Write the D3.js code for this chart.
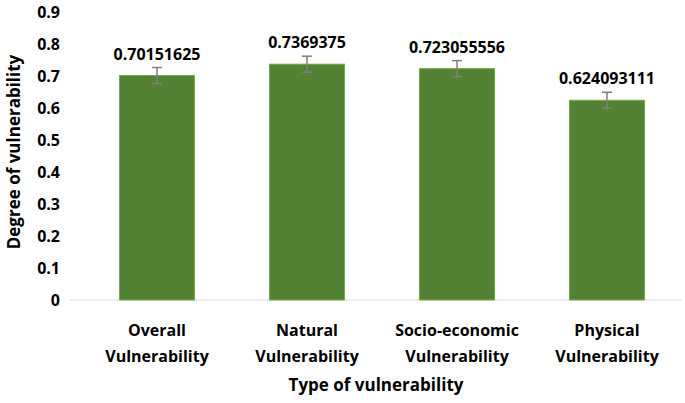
<!DOCTYPE html>
<html><head><meta charset="utf-8">
<script src="https://cdn.jsdelivr.net/npm/d3@7"></script>
<style>body{margin:0;background:#fff}text{font-family:"Open Sans",sans-serif;font-weight:bold;fill:#000}</style>
</head><body>
<script>
// chart data
var categories = [["Overall", "Vulnerability"], ["Natural", "Vulnerability"], ["Socio-economic", "Vulnerability"], ["Physical", "Vulnerability"]];
var values = [0.70151625, 0.7369375, 0.723055556, 0.624093111];
var errors = [0.025, 0.025, 0.025, 0.025];
var yTicks = [0, 0.1, 0.2, 0.3, 0.4, 0.5, 0.6, 0.7, 0.8, 0.9];

var svg = d3.select("body").append("svg").attr("width", 685).attr("height", 403);

var x = d3.scaleBand().domain(d3.range(values.length)).range([82, 682]).paddingInner(0.5).paddingOuter(0.25);
var y = d3.scaleLinear().domain([0, 0.9]).range([300, 12]);

// y axis labels
svg.selectAll(".yt").data(yTicks).enter().append("text")
	.attr("x", 60).attr("y", function(d){ return y(d) + 6; })
	.attr("text-anchor", "end").style("font-size", "16px")
	.text(function(d){ return d === 0 ? "0" : d.toFixed(1); });

// baseline
svg.append("line").attr("x1", 70).attr("x2", 682).attr("y1", y(0)).attr("y2", y(0))
	.attr("stroke", "#d9d9d9").attr("stroke-width", 1);

// bars
svg.selectAll(".bar").data(values).enter().append("rect")
	.attr("x", function(d, i){ return x(i); })
	.attr("y", function(d){ return y(d); })
	.attr("width", x.bandwidth())
	.attr("height", function(d){ return y(0) - y(d); })
	.attr("fill", "#548235").attr("stroke", "#70ad47").attr("stroke-width", 1);

// error bars
values.forEach(function(d, i){
	var cx = x(i) + x.bandwidth() / 2;
	var g = svg.append("g").attr("stroke", "#7f7f7f").attr("stroke-width", 1.5);
	g.append("line").attr("x1", cx).attr("x2", cx).attr("y1", y(d + errors[i])).attr("y2", y(d - errors[i]));
	g.append("line").attr("x1", cx - 5).attr("x2", cx + 5).attr("y1", y(d + errors[i])).attr("y2", y(d + errors[i]));
	g.append("line").attr("x1", cx - 5).attr("x2", cx + 5).attr("y1", y(d - errors[i])).attr("y2", y(d - errors[i]));
	// value label
	svg.append("text").attr("x", cx).attr("y", y(d + errors[i]) - 8)
		.attr("text-anchor", "middle").style("font-size", "16px").text(d);
	// category label
	svg.append("text").attr("x", cx).attr("y", 336).attr("text-anchor", "middle").style("font-size", "16px").text(categories[i][0]);
	svg.append("text").attr("x", cx).attr("y", 362).attr("text-anchor", "middle").style("font-size", "16px").text(categories[i][1]);
});

// axis titles
svg.append("text").attr("x", 376).attr("y", 391).attr("text-anchor", "middle").style("font-size", "17px").text("Type of vulnerability");
svg.append("text").attr("transform", "translate(20,152) rotate(-90)").attr("text-anchor", "middle").style("font-size", "17px").text("Degree of vulnerability");
</script>
</body></html>
